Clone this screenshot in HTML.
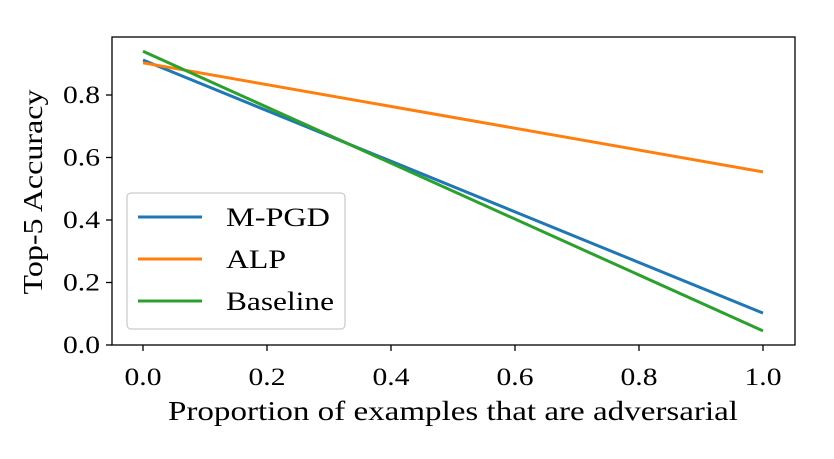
<!DOCTYPE html>
<html><head><meta charset="utf-8"><style>
body{margin:0;background:#fff}
text{font-family:"Liberation Serif","DejaVu Serif",serif;fill:#000}
</style></head><body>
<svg width="834" height="454">
<g id="g"></g>
</svg>
<script>
const xTicks=[0.0,0.2,0.4,0.6,0.8,1.0];
const yTicks=[0.0,0.2,0.4,0.6,0.8];
const xs=[0,1];
const seriesNames=["M-PGD","ALP","Baseline"];
const mpgd=[0.912,0.102];
const alp=[0.903,0.554];
const baseline=[0.94,0.045];
const colors=["#1f77b4","#ff7f0e","#2ca02c"];
const legendWidths=[104,60,108];
const L=112,R=795,T=37,B=345;
const X=v=>143+v*620, Y=v=>345-v*312.5;
const g=document.getElementById('g');const NS='http://www.w3.org/2000/svg';
function mk(t,a,p){const e=document.createElementNS(NS,t);for(const k in a)e.setAttribute(k,a[k]);(p||g).appendChild(e);return e;}
const frame=mk('rect',{x:L,y:T,width:R-L,height:B-T,fill:'none',stroke:'#000','stroke-width':1.3});


xTicks.forEach(v=>{
  const l=mk('line',{x1:X(v),x2:X(v),y1:B,y2:B+6,stroke:'#000','stroke-width':1.3});
  
  
  const t=mk('text',{x:X(v),y:B+40,'font-size':25,'text-anchor':'middle',textLength:37,lengthAdjust:'spacingAndGlyphs'});t.textContent=v.toFixed(1);
  
  
});
yTicks.forEach(v=>{
  const l=mk('line',{x1:L-6,x2:L,y1:Y(v),y2:Y(v),stroke:'#000','stroke-width':1.3});
  
  
  const t=mk('text',{x:L-12,y:Y(v)+8,'font-size':25,'text-anchor':'end',textLength:37,lengthAdjust:'spacingAndGlyphs'});t.textContent=v.toFixed(1);
  
  
});
[mpgd,alp,baseline].forEach((s,i)=>{
  const p=mk('polyline',{points:xs.map((x,j)=>X(x)+','+Y(s[j])).join(' '),fill:'none',stroke:colors[i],'stroke-width':3});
  
  
});
const xl=mk('text',{x:453,y:420,'font-size':27,'text-anchor':'middle',textLength:570,lengthAdjust:'spacingAndGlyphs'});xl.textContent='Proportion of examples that are adversarial';


const yl=mk('text',{x:0,y:0,'font-size':27,'text-anchor':'middle',textLength:205,lengthAdjust:'spacingAndGlyphs',transform:'translate(42,192) rotate(-90)'});yl.textContent='Top-5 Accuracy';


const lg=mk('g',{});


mk('rect',{x:127,y:193,width:218,height:136,rx:4,fill:'#fff','fill-opacity':0.8,stroke:'#ccc','stroke-width':1.3},lg);
seriesNames.forEach((n,i)=>{
  const y=217+i*42;
  const l=mk('line',{x1:138,x2:202,y1:y,y2:y,stroke:colors[i],'stroke-width':3},lg);
  
  
  const t=mk('text',{x:226,y:y+9,'font-size':26,textLength:legendWidths[i],lengthAdjust:'spacingAndGlyphs'},lg);t.textContent=n;
  
  
});
</script>
</body></html>
